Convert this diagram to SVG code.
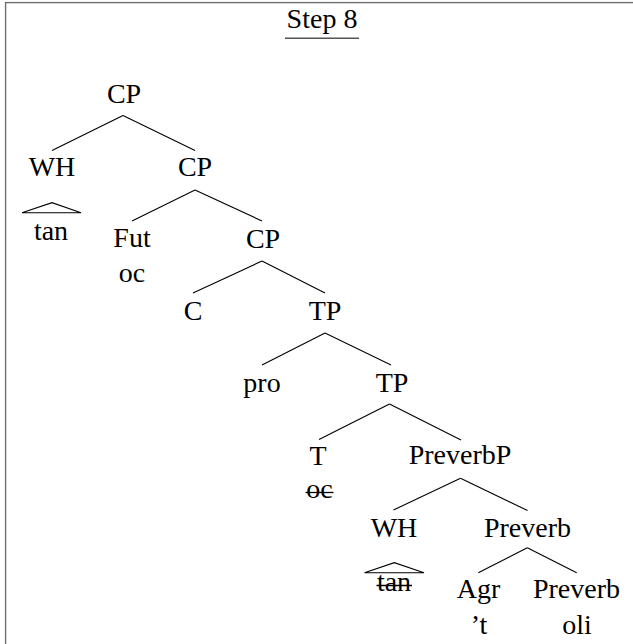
<svg xmlns="http://www.w3.org/2000/svg" width="633" height="644" viewBox="0 0 633 644">
  <style>
    .lbl { font-family: "Liberation Serif", "Times New Roman", serif; font-size: 28px; fill: #000; text-anchor: middle; }
    .edge { stroke: #000; stroke-width: 1.1; fill: none; }
    .strike { stroke: #000; stroke-width: 1.3; }
    .frame { stroke: #6e6e6e; stroke-width: 1.4; fill: none; }
  </style>
  <rect width="633" height="644" fill="#fff"/>
  <!-- frame: only top and left edges fall inside the canvas -->
  <rect class="frame" x="5.6" y="2.6" width="700" height="700"/>

  <g id="title">
    <text class="lbl" x="322" y="28">Step 8</text>
    <line x1="285" y1="38.3" x2="359" y2="38.3" stroke="#555" stroke-width="1.4"/>
  </g>

  <g id="connectors">
    <!-- CP (root) -->
    <line class="edge" x1="123" y1="115.5" x2="52" y2="150.5"/>
    <line class="edge" x1="123" y1="115.5" x2="195" y2="150.5"/>
    <!-- WH triangle -->
    <polyline class="edge" points="22,212.7 52,202.7 81,212.7 22,212.7"/>
    <!-- CP (2) -->
    <line class="edge" x1="195" y1="190" x2="132" y2="221"/>
    <line class="edge" x1="195" y1="190" x2="262" y2="221"/>
    <!-- CP (3) -->
    <line class="edge" x1="262" y1="261" x2="193" y2="293"/>
    <line class="edge" x1="262" y1="261" x2="325" y2="293"/>
    <!-- TP (1) -->
    <line class="edge" x1="325" y1="333" x2="262" y2="365"/>
    <line class="edge" x1="325" y1="333" x2="391" y2="365"/>
    <!-- TP (2) -->
    <line class="edge" x1="389.5" y1="404" x2="319" y2="439.5"/>
    <line class="edge" x1="389.5" y1="404" x2="461" y2="440"/>
    <!-- PreverbP -->
    <line class="edge" x1="460.5" y1="478.3" x2="393.5" y2="510"/>
    <line class="edge" x1="460.5" y1="478.3" x2="527.5" y2="510.5"/>
    <!-- lower WH triangle -->
    <polyline class="edge" points="364.5,572.7 394.3,562.7 424,572.7 364.5,572.7"/>
    <!-- Preverb -->
    <line class="edge" x1="527.3" y1="547.7" x2="478.3" y2="572.7"/>
    <line class="edge" x1="527.3" y1="547.7" x2="576.7" y2="572.7"/>
  </g>

  <g id="cp-root"><text class="lbl" x="124" y="103">CP</text></g>
  <g id="wh-top">
    <text class="lbl" x="52" y="176">WH</text>
    <text class="lbl" x="51" y="240">tan</text>
  </g>
  <g id="cp-2"><text class="lbl" x="195" y="176">CP</text></g>
  <g id="fut">
    <text class="lbl" x="132" y="247">Fut</text>
    <text class="lbl" x="132" y="282">oc</text>
  </g>
  <g id="cp-3"><text class="lbl" x="263" y="248">CP</text></g>
  <g id="c"><text class="lbl" x="193" y="320">C</text></g>
  <g id="tp-1"><text class="lbl" x="325" y="320">TP</text></g>
  <g id="pro"><text class="lbl" x="262" y="392">pro</text></g>
  <g id="tp-2"><text class="lbl" x="392" y="392">TP</text></g>
  <g id="t">
    <text class="lbl" x="318" y="464.5">T</text>
    <text class="lbl" x="319.5" y="498">oc</text>
    <line class="strike" x1="305.5" y1="492.5" x2="333.5" y2="492.5"/>
  </g>
  <g id="preverbp"><text class="lbl" x="460" y="464">PreverbP</text></g>
  <g id="wh-low">
    <text class="lbl" x="394" y="536.5">WH</text>
    <text class="lbl" x="394" y="591">tan</text>
    <line class="strike" x1="376.5" y1="585.5" x2="412" y2="585.5"/>
  </g>
  <g id="preverb"><text class="lbl" x="527.5" y="536.5">Preverb</text></g>
  <g id="agr">
    <text class="lbl" x="478.5" y="598.3">Agr</text>
    <text class="lbl" x="479" y="634">’t</text>
  </g>
  <g id="preverb-head">
    <text class="lbl" x="576.5" y="598.3">Preverb</text>
    <text class="lbl" x="577" y="634">oli</text>
  </g>
</svg>
